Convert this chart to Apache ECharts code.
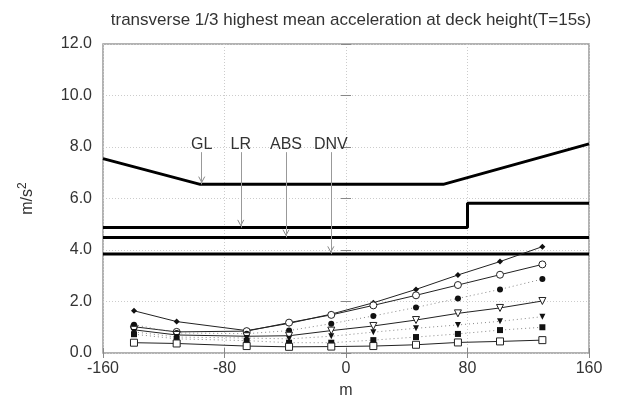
<!DOCTYPE html>
<html>
<head>
<meta charset="utf-8">
<script src="https://cdn.jsdelivr.net/npm/echarts@6/dist/echarts.min.js"></script>
<style>
  html, body { margin: 0; padding: 0; background: #fff; }
  #chart { width: 619px; height: 401px; }
</style>
</head>
<body>
<div id="chart"></div>
<script>
// Longitudinal stations along the deck (m)
const stations = [-139.6, -111.5, -65.4, -37.5, -9.7, 18.0, 46.1, 73.7, 101.4, 129.3];

// Transverse 1/3 highest mean acceleration (m/s^2) per sea state
const accA = [1.64, 1.22, 0.87, 1.15, 1.51, 1.95, 2.47, 3.03, 3.55, 4.13];
const accB = [1.02, 0.82, 0.85, 1.18, 1.48, 1.85, 2.24, 2.64, 3.04, 3.44];
const accC = [1.10, 0.78, 0.75, 0.87, 1.14, 1.44, 1.77, 2.12, 2.47, 2.87];
const accD = [0.90, 0.70, 0.65, 0.67, 0.87, 1.05, 1.28, 1.54, 1.75, 2.02];
const accE = [0.82, 0.62, 0.58, 0.55, 0.65, 0.81, 0.96, 1.09, 1.23, 1.41];
const accF = [0.73, 0.55, 0.48, 0.40, 0.40, 0.50, 0.62, 0.74, 0.89, 1.00];
const accG = [0.40, 0.37, 0.27, 0.24, 0.25, 0.27, 0.32, 0.41, 0.45, 0.50];

// Classification society design limits
const glX = [-160, -96, 64, 160];
const glY = [7.55, 6.55, 6.55, 8.12];
const lrX = [-160, 80, 80, 160];
const lrY = [4.87, 4.87, 5.82, 5.82];
const absX = [-160, 160];
const absY = [4.49, 4.49];
const dnvX = [-160, 160];
const dnvY = [3.84, 3.84];

// Rule annotations: name, x position, level each arrow points at
const ruleNames = ['GL', 'LR', 'ABS', 'DNV'];
const ruleArrowX = [-95, -69.3, -39.5, -10];
const ruleArrowTo = [6.55, 4.87, 4.49, 3.84];
const ruleArrowFrom = 7.8;

const xTicks = { min: -160, max: 160, interval: 80 };
const yTicks = { min: 0, max: 12, interval: 2 };

const pairs = (xs, ys) => xs.map((x, i) => [x, ys[i]]);

const FONT = 'Liberation Sans, Arial, sans-serif';
const TXT = '#333';

function curve(name, ys, symbol, size, open, dotted, rotate) {
  return {
    name, type: 'line',
    data: pairs(stations, ys),
    symbol, symbolSize: size, symbolRotate: rotate || 0,
    lineStyle: dotted
      ? { color: '#888', width: 1, type: [1, 3] }
      : { color: '#222', width: 1 },
    itemStyle: open
      ? { color: '#fff', borderColor: '#222', borderWidth: 1 }
      : { color: '#111', borderWidth: 0 },
    z: 5,
    animation: false, silent: true
  };
}

function rule(name, xs, ys) {
  return {
    name, type: 'line',
    data: pairs(xs, ys),
    symbol: 'none',
    lineStyle: { color: '#000', width: 3 },
    z: 3, animation: false, silent: true
  };
}

const chart = echarts.init(document.getElementById('chart'), null, { renderer: 'canvas' });

// Open "v" arrow heads are drawn as two short strokes at the tip of each pointer
const headDy = 0.22, headDx = 2.0;   // head size in axis units
const pointerSeries = ruleNames.map((n, i) => {
  const x = ruleArrowX[i];
  const tip = ruleArrowTo[i] + 0.08;
  return {
    name: n + ' pointer', type: 'line', symbol: 'none',
    data: [[x - headDx, tip + headDy], [x, tip], [x + headDx, tip + headDy]],
    lineStyle: { color: '#888', width: 1 },
    z: 4, animation: false, silent: true
  };
});

chart.setOption({
  backgroundColor: '#fff',
  animation: false,
  title: {
    text: 'transverse 1/3 highest mean acceleration at deck height(T=15s)',
    left: 346, top: 7, textAlign: 'center',
    textStyle: { fontFamily: FONT, fontSize: 17, fontWeight: 'normal', color: TXT }
  },
  grid: {
    left: 103, right: 30, top: 44, bottom: 48,
    containLabel: false, outerBoundsMode: 'none',
    show: true, borderColor: '#999', borderWidth: 1.5, backgroundColor: 'transparent'
  },
  xAxis: [{
    type: 'value', ...xTicks,
    name: 'm', nameLocation: 'middle', nameGap: 30,
    nameTextStyle: { fontFamily: FONT, fontSize: 16, color: TXT },
    axisLine: { show: false },
    axisTick: { show: true, inside: true, length: 5, lineStyle: { color: '#888' } },
    axisLabel: { fontFamily: FONT, fontSize: 16, color: TXT, margin: 8 },
    splitLine: { show: true, lineStyle: { color: '#ccc', type: [1, 2], width: 1 } }
  }, {
    type: 'value', ...xTicks, position: 'top',
    axisLine: { show: false },
    axisTick: { show: true, inside: true, length: 5, lineStyle: { color: '#888' } },
    axisLabel: { show: false }, splitLine: { show: false }
  }],
  yAxis: [{
    type: 'value', ...yTicks,
    name: 'm/s{sup|2}', nameLocation: 'middle', nameGap: 64, nameRotate: 90,
    nameTextStyle: {
      fontFamily: FONT, fontSize: 16, color: TXT, lineHeight: 22, verticalAlign: 'bottom',
      rich: { sup: { fontFamily: FONT, fontSize: 12, color: TXT, lineHeight: 22, verticalAlign: 'top', padding: [0, 0, 8, 0] } }
    },
    axisLine: { show: false },
    axisTick: { show: true, inside: true, length: 5, lineStyle: { color: '#888' } },
    axisLabel: { fontFamily: FONT, fontSize: 16, color: TXT, margin: 11,
                 formatter: v => v.toFixed(1) },
    splitLine: { show: true, lineStyle: { color: '#ccc', type: [1, 2], width: 1 } }
  }, {
    type: 'value', ...yTicks, position: 'right',
    axisLine: { show: false },
    axisTick: { show: true, inside: true, length: 5, lineStyle: { color: '#888' } },
    axisLabel: { show: false }, splitLine: { show: false }
  }],
  series: [
    Object.assign(rule('GL', glX, glY), {
      markLine: {
        silent: true, animation: false,
        symbol: ['none', 'none'],
        lineStyle: { color: '#999', width: 1, type: 'solid' },
        label: { show: true, position: 'start', distance: 0, formatter: '{b}',
                 fontFamily: FONT, fontSize: 16, color: TXT },
        data: ruleNames.map((n, i) => [
          { name: n, coord: [ruleArrowX[i], ruleArrowFrom] },
          { coord: [ruleArrowX[i], ruleArrowTo[i]] }
        ])
      }
    }),
    rule('LR', lrX, lrY),
    rule('ABS', absX, absY),
    rule('DNV', dnvX, dnvY),
    ...pointerSeries,
    curve('A', accA, 'diamond', 6, false, false),
    curve('B', accB, 'circle', 7, true, false),
    curve('C', accC, 'circle', 6, false, true),
    curve('D', accD, 'triangle', 7, true, false, 180),
    curve('E', accE, 'triangle', 6, false, true, 180),
    curve('F', accF, 'rect', 6, false, true),
    curve('G', accG, 'rect', 7, true, false)
  ]
});
</script>
</body>
</html>
